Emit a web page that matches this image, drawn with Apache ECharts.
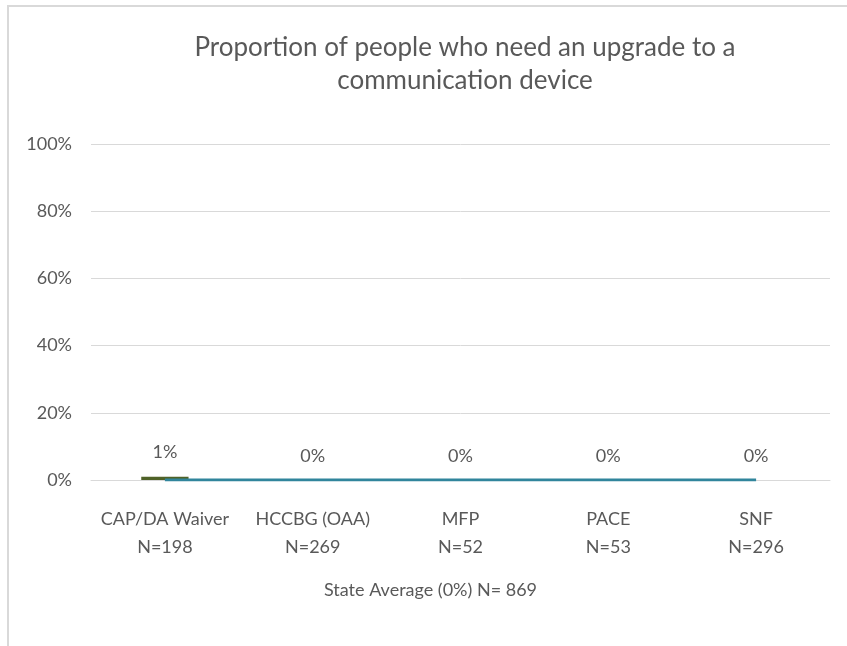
<!DOCTYPE html>
<html>
<head>
<meta charset="utf-8">
<script src="https://cdn.jsdelivr.net/npm/echarts@6/dist/echarts.min.js"></script>
<style>
  body { margin: 0; background: #fff; }
  #frame { position: absolute; left: 7px; top: 5px; width: 845px; height: 646px;
           border-top: 2px solid #d9d9d9; border-left: 2px solid #d9d9d9; }
  #pic0 { position: absolute; left: 0; top: 0; width: 847px; height: 646px; }
</style>
</head>
<body>
<div id="frame"></div>
<div id="pic0"></div>
<script>
// 数据
var programs = ['CAP/DA Waiver', 'HCCBG (OAA)', 'MFP', 'PACE', 'SNF'];
var sampleSizes = [198, 269, 52, 53, 296];
var needUpgrade = [1, 0, 0, 0, 0];      // % per program
var stateAverage = [0, 0, 0, 0, 0];     // % state average line
var stateN = 869;
var yTicks = [0, 20, 40, 60, 80, 100];

var xLabels = [];
for (var i = 0; i < programs.length; i++) {
    xLabels.push(programs[i] + '\nN=' + sampleSizes[i]);
}

var font = 'Lato, "Open Sans", sans-serif';
var textColor = '#595959';

var myChart = echarts.init(document.getElementById('pic0'));
var option = {
    backgroundColor: 'transparent',
    textStyle: { fontFamily: font },
    title: {
        text: 'Proportion of people who need an upgrade to a\ncommunication device',
        left: 460,
        textAlign: 'center',
        top: 26,
        textStyle: {
            color: textColor,
            fontSize: 26,
            fontWeight: 'normal',
            lineHeight: 33,
            fontFamily: font
        }
    },
    grid: {
        left: 91,
        right: 17,
        top: 144,
        bottom: 166
    },
    xAxis: {
        type: 'category',
        data: xLabels,
        name: 'State Average (' + stateAverage[0] + '%) N= ' + stateN,
        nameLocation: 'middle',
        nameGap: 101,
        nameTextStyle: { color: textColor, fontSize: 18, fontFamily: font, padding: [0, 60, 0, 0] },
        axisLine: { lineStyle: { color: '#d9d9d9', width: 1 } },
        axisTick: { show: false },
        axisLabel: {
            interval: 0,
            color: textColor,
            fontSize: 18,
            lineHeight: 28,
            margin: 25,
            fontFamily: font
        }
    },
    yAxis: {
        type: 'value',
        min: yTicks[0],
        max: yTicks[yTicks.length - 1],
        interval: 20,
        axisLine: { show: false },
        axisTick: { show: false },
        axisLabel: {
            formatter: '{value}%',
            color: textColor,
            fontSize: 18,
            margin: 19,
            fontFamily: font
        },
        splitLine: { lineStyle: { color: '#d9d9d9', width: 1 } }
    },
    series: [
        {
            type: 'bar',
            name: 'Need upgrade',
            data: needUpgrade,
            barWidth: '32%',
            itemStyle: { color: '#4f6228' },
            label: {
                show: true,
                position: 'top',
                distance: 15,
                formatter: '{c}%',
                color: textColor,
                fontSize: 18,
                fontFamily: font
            },
            z: 2
        },
        {
            type: 'line',
            name: 'State Average',
            data: stateAverage,
            symbol: 'none',
            lineStyle: { color: '#31859c', width: 3 },
            z: 3
        }
    ]
};
myChart.setOption(option);
</script>
</body>
</html>
